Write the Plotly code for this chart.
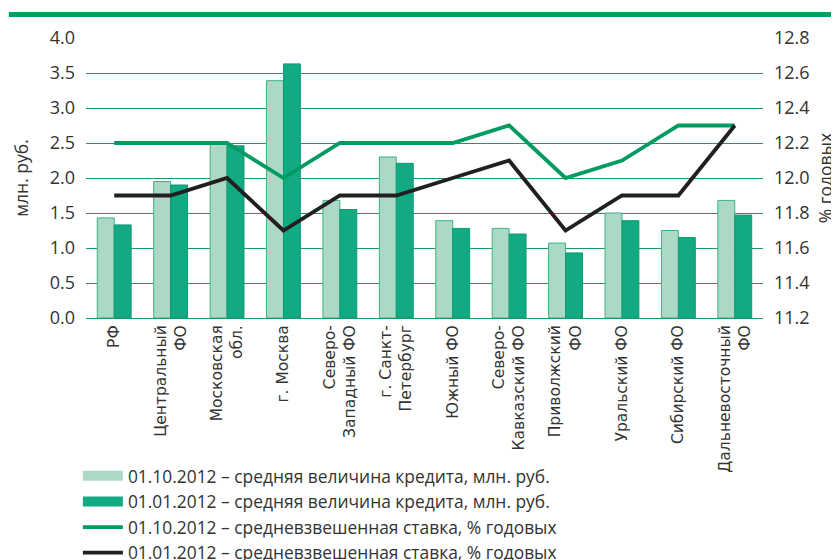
import plotly.graph_objects as go

categories = ["РФ", "Центральный<br>ФО", "Московская<br>обл.", "г. Москва",
              "Северо-<br>Западный ФО", "г. Санкт-<br>Петербург", "Южный ФО",
              "Северо-<br>Кавказский ФО", "Приволжский<br>ФО", "Уральский ФО",
              "Сибирский ФО", "Дальневосточный<br>ФО"]
credit_oct2012 = [1.43, 1.95, 2.51, 3.39, 1.68, 2.30, 1.39, 1.28, 1.07, 1.50, 1.25, 1.68]
credit_jan2012 = [1.33, 1.90, 2.46, 3.63, 1.55, 2.21, 1.28, 1.20, 0.93, 1.39, 1.15, 1.47]
rate_oct2012 = [12.2, 12.2, 12.2, 12.0, 12.2, 12.2, 12.2, 12.3, 12.0, 12.1, 12.3, 12.3]
rate_jan2012 = [11.9, 11.9, 12.0, 11.7, 11.9, 11.9, 12.0, 12.1, 11.7, 11.9, 11.9, 12.3]
legend_names = ["01.10.2012 – средняя величина кредита, млн. руб.",
                "01.01.2012 – средняя величина кредита, млн. руб.",
                "01.10.2012 – средневзвешенная ставка, % годовых",
                "01.01.2012 – средневзвешенная ставка, % годовых"]
left_ticks = [0, 0.5, 1, 1.5, 2, 2.5, 3, 3.5, 4]
right_ticks = [11.2, 11.4, 11.6, 11.8, 12.0, 12.2, 12.4, 12.6, 12.8]

LIGHT = "#acd9c6"
LIGHT_EDGE = "#3bb283"
DARK = "#12aa82"
DARK_EDGE = "#0e9a72"
GREEN_LINE = "#009b61"
BLACK_LINE = "#231f20"
GRID = "#1a9a66"
TXT = "#333333"
FONT = "Open Sans"

fig = go.Figure()
fig.add_trace(go.Bar(x=categories, y=credit_oct2012, marker=dict(color=LIGHT, line=dict(color=LIGHT_EDGE, width=1)),
                     showlegend=False, yaxis="y"))
fig.add_trace(go.Bar(x=categories, y=credit_jan2012, marker=dict(color=DARK, line=dict(color=DARK_EDGE, width=1)),
                     showlegend=False, yaxis="y"))
fig.add_trace(go.Scatter(x=categories, y=rate_oct2012, mode="lines", line=dict(color=GREEN_LINE, width=3.8),
                         showlegend=False, yaxis="y2"))
fig.add_trace(go.Scatter(x=categories, y=rate_jan2012, mode="lines", line=dict(color=BLACK_LINE, width=3.8),
                         showlegend=False, yaxis="y2"))

# legend entries
fig.add_trace(go.Scatter(x=[None], y=[None], mode="lines", name=legend_names[0],
                         line=dict(color=LIGHT, width=10)))
fig.add_trace(go.Scatter(x=[None], y=[None], mode="lines", name=legend_names[1],
                         line=dict(color=DARK, width=10)))
fig.add_trace(go.Scatter(x=[None], y=[None], mode="lines", name=legend_names[2],
                         line=dict(color=GREEN_LINE, width=3.8)))
fig.add_trace(go.Scatter(x=[None], y=[None], mode="lines", name=legend_names[3],
                         line=dict(color=BLACK_LINE, width=3.8)))

fig.update_layout(
    width=839, height=560,
    margin=dict(l=78, r=84, t=30, b=250, autoexpand=False),
    paper_bgcolor="white", plot_bgcolor="white",
    font=dict(family=FONT, size=16, color=TXT),
    barmode="group", bargap=0.4, bargroupgap=0,
    xaxis=dict(tickangle=-90, showgrid=False, showline=True, linecolor=GRID, linewidth=1,
               ticks="", tickfont=dict(family="DejaVu Sans", size=15.5, color=TXT), automargin=False),
    yaxis=dict(range=[0, 4], tickvals=left_ticks, tickformat=".1f", showgrid=True, gridcolor=GRID,
               gridwidth=1, zeroline=False, ticks="", tickfont=dict(size=18, color=TXT),
               ticklabelstandoff=10, automargin=False,
               title=dict(text="млн. руб.", font=dict(size=17.5, color=TXT), standoff=16)),
    yaxis2=dict(range=[11.2, 12.8], tickvals=right_ticks, tickformat=".1f", overlaying="y", side="right",
                showgrid=False, zeroline=False, ticks="", tickfont=dict(size=18, color=TXT),
                ticklabelstandoff=10, automargin=False,
                title=dict(text="% годовых", font=dict(size=17.5, color=TXT), standoff=11)),
    legend=dict(x=-0.012, y=-0.5, xanchor="left", yanchor="top",
                tracegroupgap=0, font=dict(size=17.4, color=TXT), bgcolor="rgba(0,0,0,0)", itemwidth=40),
    showlegend=True,
)
fig.add_shape(type="line", xref="paper", yref="paper", x0=-0.114, x1=1.14, y0=1.084, y1=1.084,
              line=dict(color="#00a062", width=5))

fig.write_html("out.html")
